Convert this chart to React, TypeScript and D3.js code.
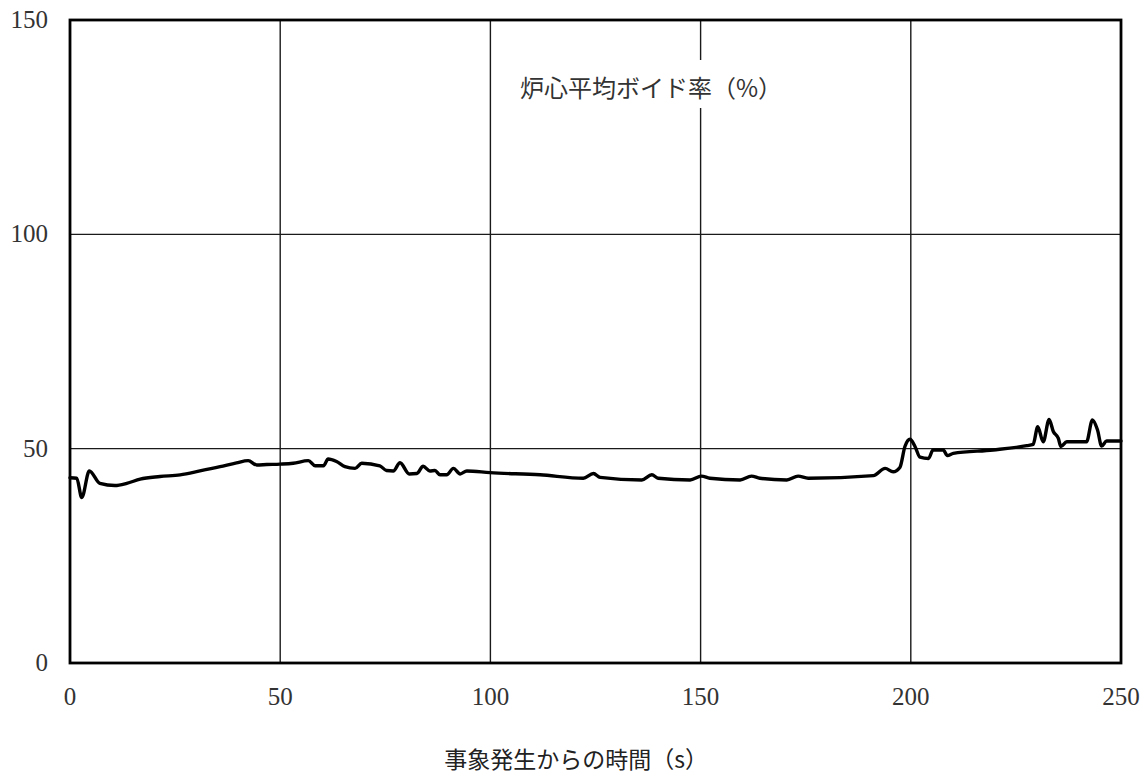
import React from "react";
import * as d3 from "d3";

// Core average void fraction over time
const timeSec: number[] = [
  0, 1.6, 2.8, 4.6, 7.1, 10.7, 13.5, 16.7, 21.4, 26.2, 30.9, 35.7, 39.6, 42.4, 44.4, 46.8,
  50, 53.1, 56.7, 58.3, 60.3, 61.4, 63.4, 65.4, 67.8, 69.4, 73.7, 75.3, 76.9, 78.5, 80.7,
  82.5, 84.0, 85.6, 86.8, 88.0, 89.6, 91.2, 92.8, 94.4, 99.9, 111.8, 122.1, 124.5, 126.1,
  136.0, 138.4, 139.9, 147.5, 150.2, 152.2, 159.4, 162.1, 164.1, 170.5, 173.2, 175.6,
  191.1, 193.9, 195.8, 197.4, 198.6, 199.8, 201.0, 202.2, 204.2, 205.3, 207.7, 208.7,
  210.1, 219.6, 227.6, 229.1, 230.2, 231.5, 232.9, 233.9, 235.1, 235.7, 237.1, 241.8,
  243.2, 244.4, 245.4, 246.6, 250,
];
const voidPct: number[] = [
  43.2, 43.1, 38.6, 44.8, 41.9, 41.4, 41.9, 42.9, 43.5, 43.9, 44.8, 45.8, 46.7, 47.2, 46.2, 46.3,
  46.4, 46.6, 47.2, 46.0, 46.0, 47.6, 47.0, 45.8, 45.4, 46.6, 46.0, 44.9, 44.8, 46.7, 44.1,
  44.2, 45.9, 44.8, 44.9, 43.9, 43.9, 45.4, 44.1, 44.8, 44.4, 43.9, 43.1, 44.2, 43.3,
  42.7, 43.9, 43.1, 42.7, 43.6, 43.1, 42.7, 43.6, 43.1, 42.7, 43.6, 43.1,
  43.7, 45.4, 44.6, 45.6, 50.5, 52.2, 50.5, 48.0, 47.7, 49.7, 49.7, 48.4,
  48.9, 49.7, 50.7, 51.0, 55.1, 51.6, 56.8, 54.0, 52.4, 50.5, 51.6, 51.6,
  56.7, 54.4, 50.6, 51.8, 51.8,
];

const xTicks: number[] = [0, 50, 100, 150, 200, 250];
const yTicks: number[] = [0, 50, 100, 150];

const seriesTitle = "炉心平均ボイド率（%）";
const xAxisTitle = "事象発生からの時間（s）";

const W = 1148;
const H = 776;
const plot = { left: 70, right: 1121, top: 20, bottom: 663 };

const serif = "'Liberation Serif', 'DejaVu Serif', serif";
const cjk = "'Noto Sans CJK JP', 'Noto Sans CJK SC', sans-serif";

export default function App() {
  const x = d3.scaleLinear().domain([0, 250]).range([plot.left, plot.right]);
  const y = d3.scaleLinear().domain([0, 150]).range([plot.bottom, plot.top]);

  const points: [number, number][] = timeSec.map((t, i) => [t, voidPct[i]]);
  const line = d3
    .line<[number, number]>()
    .x((d) => x(d[0]))
    .y((d) => y(d[1]))
    .curve(d3.curveMonotoneX);

  return (
    <svg
      width={W}
      height={H}
      style={{ position: "absolute", left: 0, top: 0, background: "#fff" }}
    >
      <rect x={0} y={0} width={W} height={H} fill="#fff" />

      {/* grid */}
      {xTicks.slice(1, -1).map((t) => (
        <line key={"gx" + t} x1={x(t)} x2={x(t)} y1={plot.top} y2={plot.bottom} stroke="#1a1a1a" strokeWidth={1.4} />
      ))}
      {yTicks.slice(1, -1).map((v) => (
        <line key={"gy" + v} x1={plot.left} x2={plot.right} y1={y(v)} y2={y(v)} stroke="#1a1a1a" strokeWidth={1.4} />
      ))}

      {/* series label with white backing */}
      <rect x={512} y={60} width={278} height={48} fill="#fff" />
      <text x={651} y={86} textAnchor="middle" dominantBaseline="central" fontFamily={cjk} fontSize={24} fill="#333">
        {seriesTitle}
      </text>

      {/* data line */}
      <path d={line(points) ?? ""} fill="none" stroke="#000" strokeWidth={3.4} strokeLinejoin="round" strokeLinecap="round" />

      {/* frame */}
      <rect
        x={plot.left}
        y={plot.top}
        width={plot.right - plot.left}
        height={plot.bottom - plot.top}
        fill="none"
        stroke="#000"
        strokeWidth={2.8}
      />

      {/* y tick labels */}
      {yTicks.map((v) => (
        <text key={"yl" + v} x={48} y={y(v) + 8} textAnchor="end" fontFamily={serif} fontSize={25} fill="#333">
          {v}
        </text>
      ))}

      {/* x tick labels */}
      {xTicks.map((t) => (
        <text key={"xl" + t} x={x(t)} y={705} textAnchor="middle" fontFamily={serif} fontSize={25} fill="#333">
          {t}
        </text>
      ))}

      {/* x axis title */}
      <text x={708} y={768} textAnchor="end" fontFamily={cjk} fontSize={23} fill="#222">
        {xAxisTitle}
      </text>
    </svg>
  );
}
